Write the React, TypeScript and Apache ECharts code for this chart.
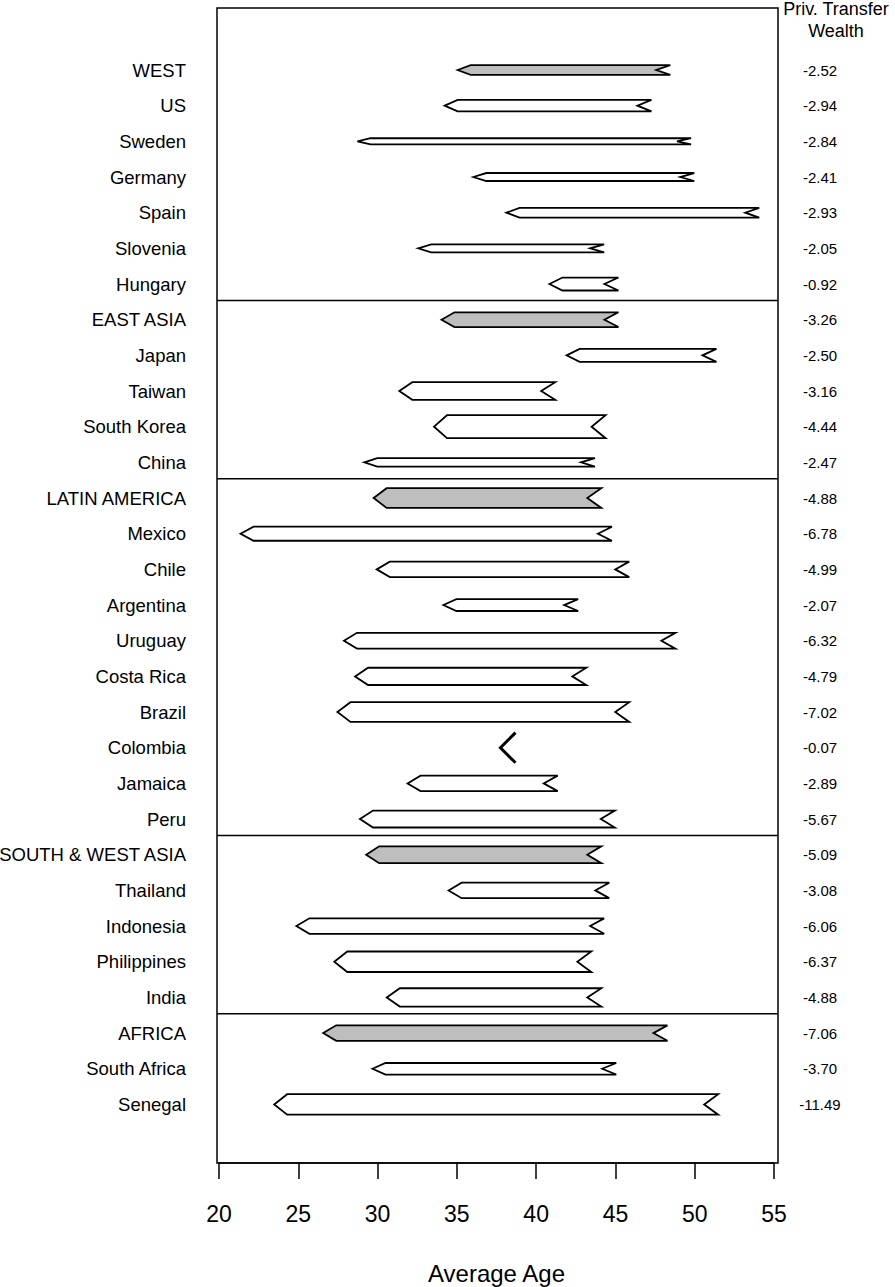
import React, { useEffect, useRef } from "react";
import * as echarts from "echarts";

const countries = [
  "WEST", "US", "Sweden", "Germany", "Spain", "Slovenia", "Hungary",
  "EAST ASIA", "Japan", "Taiwan", "South Korea", "China",
  "LATIN AMERICA", "Mexico", "Chile", "Argentina", "Uruguay", "Costa Rica", "Brazil", "Colombia", "Jamaica", "Peru",
  "SOUTH & WEST ASIA", "Thailand", "Indonesia", "Philippines", "India",
  "AFRICA", "South Africa", "Senegal",
];
const isRegion = [
  1, 0, 0, 0, 0, 0, 0,
  1, 0, 0, 0, 0,
  1, 0, 0, 0, 0, 0, 0, 0, 0, 0,
  1, 0, 0, 0, 0,
  1, 0, 0,
];
// arrow head (left end) average age
const ageTip = [
  35.05, 34.23, 28.73, 36.04, 38.13, 32.56, 40.84,
  34.03, 41.92, 31.37, 33.56, 29.16,
  29.75, 21.36, 29.95, 34.15, 27.88, 28.58, 27.47, 37.75, 31.89, 28.89,
  29.28, 34.48, 24.88, 27.27, 30.58,
  26.57, 29.68, 23.48,
];
// arrow tail (right end) average age
const ageTail = [
  48.46, 47.27, 49.77, 49.97, 54.07, 44.29, 45.19,
  45.19, 51.37, 41.2, 44.38, 43.71,
  44.11, 44.78, 45.87, 42.65, 48.78, 43.16, 45.87, 38.3, 41.36, 44.96,
  44.11, 44.61, 44.29, 43.48, 44.11,
  48.28, 45.05, 51.48,
];
// arrow thickness, as a share of one row
const thickness = [
  0.33, 0.38, 0.23, 0.28, 0.33, 0.28, 0.42,
  0.47, 0.42, 0.55, 0.7, 0.29,
  0.61, 0.45, 0.49, 0.39, 0.5, 0.54, 0.61, 0.9, 0.49, 0.53,
  0.53, 0.49, 0.49, 0.63, 0.57,
  0.49, 0.38, 0.63,
];
const wealth = [
  "-2.52", "-2.94", "-2.84", "-2.41", "-2.93", "-2.05", "-0.92",
  "-3.26", "-2.50", "-3.16", "-4.44", "-2.47",
  "-4.88", "-6.78", "-4.99", "-2.07", "-6.32", "-4.79", "-7.02", "-0.07", "-2.89", "-5.67",
  "-5.09", "-3.08", "-6.06", "-6.37", "-4.88",
  "-7.06", "-3.70", "-11.49",
];
const groupEnds = [6, 11, 21, 26];
const xMin = 20;
const xMax = 55;
const xStep = 5;

const FONT = "'Liberation Sans', Arial, Helvetica, sans-serif";

export default function App() {
  const ref = useRef<HTMLDivElement>(null);
  useEffect(() => {
    document.body.style.margin = "0";
    const chart = echarts.init(ref.current!, null, { renderer: "svg" });
    const rowPx = 35.67;
    const firstRowY = 70;
    const gridTop = firstRowY - rowPx / 2;
    const gridH = rowPx * countries.length;
    const boxTop = 8;
    const boxBottom = 1163;
    const boxLeft = 217;
    const boxRight = 778;
    const gridLeft = 219;
    const gridRight = 774;

    const arrowData = countries.map((_, i) => [ageTip[i], ageTail[i], i, thickness[i], isRegion[i]]);
    const sepData = groupEnds.map((g) => [xMin, g]);

    chart.setOption({
      animation: false,
      textStyle: { fontFamily: FONT },
      grid: {
        left: gridLeft,
        width: gridRight - gridLeft,
        top: gridTop,
        height: gridH,
        containLabel: false,
        outerBoundsMode: "none",
      },
      xAxis: {
        type: "value",
        min: xMin,
        max: xMax,
        interval: xStep,
        position: "bottom",
        offset: boxBottom - (gridTop + gridH),
        axisLine: { show: true, onZero: false, lineStyle: { color: "#000", width: 1.5 } },
        axisTick: { show: true, length: 16, lineStyle: { color: "#000", width: 1.5 } },
        axisLabel: { color: "#000", fontSize: 23, margin: 39, fontFamily: FONT },
        splitLine: { show: false },
        name: "Average Age",
        nameLocation: "middle",
        nameGap: 98,
        nameTextStyle: { color: "#000", fontSize: 24, fontFamily: FONT },
      },
      yAxis: [
        {
          type: "category",
          data: countries,
          inverse: true,
          position: "left",
          axisLine: { show: false },
          axisTick: { show: false },
          splitLine: { show: false },
          axisLabel: { color: "#000", fontSize: 18.5, margin: 33, fontFamily: FONT, interval: 0 },
        },
        {
          type: "category",
          data: wealth,
          inverse: true,
          position: "right",
          axisLine: { show: false },
          axisTick: { show: false },
          splitLine: { show: false },
          axisLabel: { color: "#000", fontSize: 15, margin: 46, align: "center", fontFamily: FONT, interval: 0 },
        },
        {
          type: "value",
          min: -0.5,
          max: countries.length - 0.5,
          inverse: true,
          show: false,
          splitLine: { show: false },
        },
      ],
      graphic: [
        {
          type: "rect",
          shape: { x: boxLeft, y: boxTop, width: boxRight - boxLeft, height: boxBottom - boxTop },
          style: { fill: "none", stroke: "#000", lineWidth: 1.5 },
          silent: true,
        },
        {
          type: "text",
          style: {
            text: "Priv. Transfer",
            x: 836, y: 9,
            align: "center", verticalAlign: "middle",
            textAlign: "center", textVerticalAlign: "middle",
            fontSize: 18, fontFamily: FONT, fill: "#000",
          },
        },
        {
          type: "text",
          style: {
            text: "Wealth",
            x: 836, y: 31,
            align: "center", verticalAlign: "middle",
            textAlign: "center", textVerticalAlign: "middle",
            fontSize: 18, fontFamily: FONT, fill: "#000",
          },
        },
      ],
      series: [
        {
          type: "custom",
          xAxisIndex: 0,
          yAxisIndex: 2,
          encode: { x: [0, 1], y: 2 },
          data: arrowData,
          renderItem: (params: any, api: any) => {
            const tip = api.value(0);
            const tail = api.value(1);
            const row = api.value(2);
            const th = api.value(3);
            const region = api.value(4);
            const a = api.coord([tip, row]);
            const b = api.coord([tail, row]);
            const band = api.size([0, 1])[1];
            const half = (th * band - 2) / 2;
            const hl = 13;
            const nd = 14;
            const y = a[1];
            if (b[0] - a[0] < hl + nd) {
              return {
                type: "polyline",
                shape: {
                  points: [
                    [a[0] + half, y - half],
                    [a[0], y],
                    [a[0] + half, y + half],
                  ],
                },
                style: { fill: "none", stroke: "#000", lineWidth: 3 },
              };
            }
            return {
              type: "polygon",
              shape: {
                points: [
                  [a[0], y],
                  [a[0] + hl, y - half],
                  [b[0], y - half],
                  [b[0] - nd, y],
                  [b[0], y + half],
                  [a[0] + hl, y + half],
                ],
              },
              style: {
                fill: region ? "#bebebe" : "#ffffff",
                stroke: "#000",
                lineWidth: 1.8,
                lineJoin: "miter",
              },
            };
          },
          silent: true,
        },
        {
          type: "custom",
          xAxisIndex: 0,
          yAxisIndex: 2,
          encode: { x: 0, y: 1 },
          data: sepData,
          renderItem: (params: any, api: any) => {
            const row = api.value(1);
            const p = api.coord([xMin, row + 0.46]);
            const cs = params.coordSys;
            return {
              type: "line",
              shape: { x1: cs.x - 2, y1: p[1], x2: cs.x + cs.width + 4, y2: p[1] },
              style: { stroke: "#000", lineWidth: 1.5 },
            };
          },
          silent: true,
        },
      ],
    });
    return () => chart.dispose();
  }, []);
  return <div ref={ref} style={{ width: 895, height: 1287 }} />;
}
